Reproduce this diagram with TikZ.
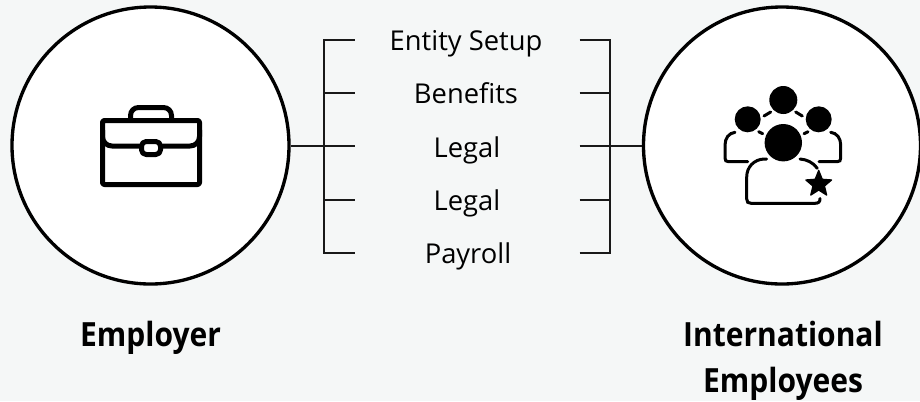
\documentclass[tikz,border=0pt]{standalone}
\usepackage{fontspec}
\setmainfont{Open Sans}[BoldFeatures={FakeStretch=0.9}]
\definecolor{pagebg}{HTML}{F5F7F7}
\tikzset{
  party/.style={draw, circle, fill=white, line width=2.5pt, minimum size=207.75pt, inner sep=0pt},
  service/.style={font=\fontsize{20.5}{24}\selectfont, anchor=base, inner sep=0pt},
  caption/.style={font=\fontsize{25}{34.5}\selectfont\bfseries, align=center, anchor=base, inner sep=0pt},
  link/.style={line width=1.5pt, black!90},
  icon/.style={line width=3.75pt, line join=round, line cap=round},
  figure/.style={line width=2.25pt, line cap=round}
}
\begin{document}
\begin{tikzpicture}[x=0.75pt, y=-0.75pt]
    \useasboundingbox[fill=pagebg] (0,0) rectangle (920,401);
    % parties
    \node[party] (employer) at (150.5,145.5) {};
    \node[party] (staff) at (782,145.5) {};
    \node[caption] (employerlabel) at (150.5,346) {Employer};
    \node[caption] (stafflabel) at (783,392) {International\\Employees};

    % services and the free ends of their ticks
    \node[service] (s1) at (466,50) {Entity Setup};
    \node[service] (s2) at (466,103) {Benefits};
    \node[service] (s3) at (467,157) {Legal};
    \node[service] (s4) at (467,210) {Legal};
    \node[service] (s5) at (468,263) {Payroll};
    \foreach \i/\y in {1/40, 2/93, 3/146.3, 4/199.5, 5/253} {
        \coordinate (la\i) at (324,\y);
        \coordinate (lb\i) at (354.5,\y);
        \coordinate (ra\i) at (579.5,\y);
        \coordinate (rb\i) at (610,\y);
        \draw[link] (la\i) -- (lb\i);
        \draw[link] (ra\i) -- (rb\i);
    }
    \draw[link, line cap=rect] (la1) -- (la5);
    \draw[link, line cap=rect] (rb1) -- (rb5);
    \draw[link] (employer.east |- la3) -- (la3);
    \draw[link] (rb3) -- (staff.west |- rb3);

    % briefcase
    \draw[icon, rounded corners=6pt] (130.5,120) -- (130.5,107.5) -- (171.5,107.5) -- (171.5,120);
    \draw[icon, rounded corners=1.5pt] (102.5,120.5) rectangle (199.5,184.5);
    \draw[icon, rounded corners=7pt] (102.5,130) -- (102.5,146) -- (141,146);
    \draw[icon, rounded corners=7pt] (161,146) -- (199.5,146) -- (199.5,130);
    \draw[icon, rounded corners=3.5pt] (141.5,141.5) rectangle (160.5,154.5);

    % people
    \fill (783.3,100) circle (14);
    \fill (747.7,119.3) circle (13);
    \fill (818.7,119.3) circle (13);
    \draw[figure] (764,116) -- (770.7,112);
    \draw[figure] (795.7,112) -- (802.3,116);
    \draw[figure] (758.7,131.7) -- (762.7,133.7);
    \draw[figure] (804,133.7) -- (808,131.7);
    \draw[figure] (735,132.3) .. controls (729,133) and (725,138) .. (725,145) -- (725,158) .. controls (725,160.5) and (726,161.7) .. (728.5,161.7) -- (747.7,161.7);
    \draw[figure] (830.7,132.3) .. controls (836.7,133) and (840.7,138) .. (840.7,145) -- (840.7,158) .. controls (840.7,160.5) and (839.7,161.7) .. (837.2,161.7) -- (819,161.7);
    \fill (783.3,142.7) circle (18.7);
    \draw[figure] (766.7,159) -- (764,159) .. controls (754,159.5) and (746.7,167) .. (746.7,177) -- (746.7,199) .. controls (746.7,202) and (748,203.3) .. (751,203.3) -- (815,203.3) .. controls (818.5,203.3) and (820,202) .. (820,198.5);
    \draw[figure] (800,159) .. controls (807,159.5) and (813,162.5) .. (817.3,168.3);
    \fill[line width=1pt, draw, line join=round] (818.7,170.5) -- (822.2,179.3) -- (831.5,180) -- (824.4,186) -- (826.6,195) -- (818.7,190) -- (810.8,195) -- (813,186) -- (805.9,180) -- (815.2,179.3) -- cycle;
\end{tikzpicture}
\end{document}
